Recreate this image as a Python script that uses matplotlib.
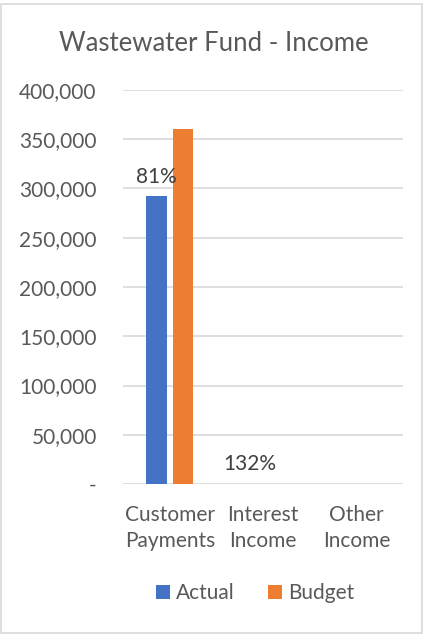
import matplotlib.pyplot as plt
import numpy as np
from matplotlib.patches import Rectangle

categories = ["Customer\nPayments", "Interest\nIncome", "Other\nIncome"]
actual = [292000, 330, 0]
budget = [360000, 250, 0]
pct_labels = ["81%", "132%", ""]
yticks = [0, 50000, 100000, 150000, 200000, 250000, 300000, 350000, 400000]

plt.rcParams['font.family'] = ['Lato', 'DejaVu Sans']
text_color = "#595959"
blue = "#4472C4"
orange = "#ED7D31"

fig = plt.figure(figsize=(4.23, 6.37), dpi=100)
fig.patches.append(Rectangle((0.002, 0.006), 0.996, 0.988, transform=fig.transFigure,
                             fill=False, edgecolor="#D9D9D9", linewidth=1.2))
ax = fig.add_axes([0.291, 0.240, 0.662, 0.619])

x = np.arange(len(categories))
w = 0.22
gap = 0.065
ax.bar(x - (w + gap) / 2, actual, width=w, color=blue, label="Actual", zorder=3)
ax.bar(x + (w + gap) / 2, budget, width=w, color=orange, label="Budget", zorder=3)

for xi, val, lab in zip(x, actual, pct_labels):
    if lab:
        ax.annotate(lab, (xi - (w + gap) / 2, val), xytext=(0, 7), textcoords="offset points",
                    ha="center", va="bottom", fontsize=15, color="#404040")

ax.set_xlim(-0.5, 2.5)
ax.set_ylim(0, 400000)
ax.set_yticks(yticks)
ax.set_yticklabels(["-" if v == 0 else f"{v:,}" for v in yticks])
ax.set_xticks(x)
ax.set_xticklabels(categories, linespacing=1.35)
ax.tick_params(axis="both", length=0, labelsize=15, labelcolor=text_color)
ax.tick_params(axis="y", pad=19)
ax.tick_params(axis="x", pad=15)
for lbl in ax.get_yticklabels():
    lbl.set_horizontalalignment("right")
ax.grid(axis="y", color="#D9D9D9", linewidth=1.2, zorder=0)
for s in ax.spines.values():
    s.set_visible(False)

fig.text(0.505, 0.932, "Wastewater Fund - Income", ha="center", va="center",
         fontsize=18.5, color=text_color)

fig.legend(loc="center", bbox_to_anchor=(0.603, 0.069), ncol=2, frameon=False,
           fontsize=15, labelcolor=text_color, handlelength=0.65, handleheight=0.65,
           handletextpad=0.3, columnspacing=1.6)

fig.savefig("out.png", dpi=100)
